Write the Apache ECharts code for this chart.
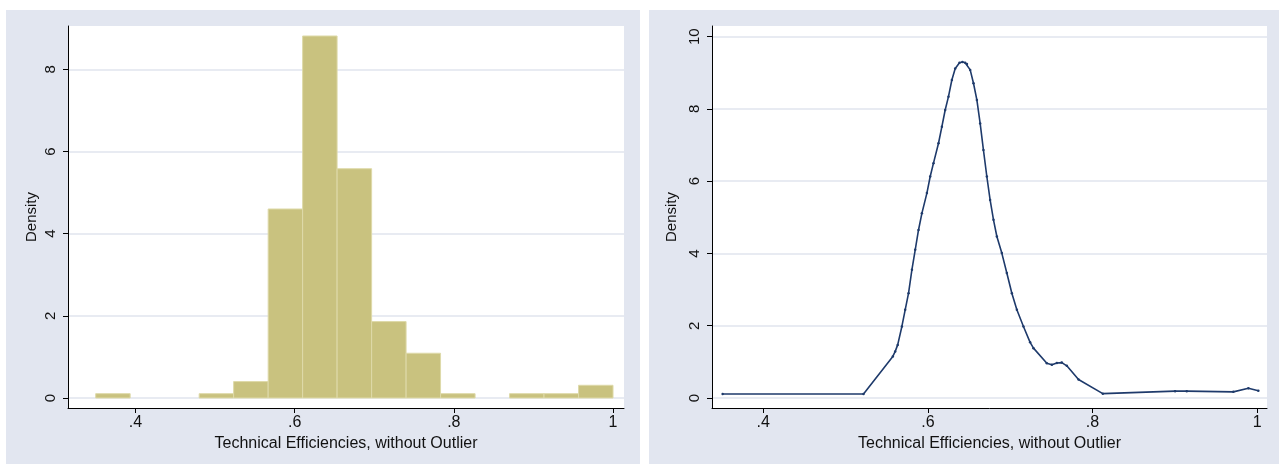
<!DOCTYPE html>
<html>
<head>
<meta charset="utf-8">
<title>Technical Efficiencies</title>
<script src="https://cdn.jsdelivr.net/npm/echarts@6/dist/echarts.min.js"></script>
<style>
  html, body { margin: 0; padding: 0; background: #ffffff; }
  #chart { width: 1279px; height: 464px; }
</style>
</head>
<body>
<div id="chart"></div>
<script>
// histogram: 15 bins, edges
const binEdges = [0.35, 0.3933, 0.4367, 0.48, 0.5233, 0.5667, 0.61, 0.6533, 0.6967,
                  0.74, 0.7833, 0.8267, 0.87, 0.9133, 0.9567, 1.0];
const binDensity = [0.106, 0, 0, 0.106, 0.40, 4.60, 8.81, 5.58, 1.86, 1.09,
                    0.106, 0, 0.106, 0.106, 0.31];

// density line (right panel)
const curveX = [0.3506, 0.5218, 0.5574, 0.5603, 0.5633, 0.5684, 0.5724, 0.5765, 0.5806,
                0.5846, 0.5886, 0.5927, 0.5988, 0.6028, 0.6068, 0.6129, 0.6170, 0.6210,
                0.6250, 0.6291, 0.6332, 0.6384, 0.6420, 0.6453, 0.6474, 0.6514, 0.6554,
                0.6595, 0.6635, 0.6675, 0.6716, 0.6756, 0.6797, 0.6838, 0.6898, 0.6959,
                0.7020, 0.7081, 0.7161, 0.7242, 0.7283, 0.7445, 0.7506, 0.7567, 0.7627,
                0.7688, 0.7830, 0.8125, 0.9003, 0.9145, 0.9711, 0.9894, 1.0015];
const curveY = [0.11, 0.11, 1.15, 1.29, 1.47, 1.98, 2.44, 2.90, 3.55,
                4.10, 4.65, 5.11, 5.67, 6.13, 6.50, 7.05, 7.51, 7.97,
                8.34, 8.80, 9.12, 9.28, 9.30, 9.28, 9.24, 9.08, 8.71,
                8.25, 7.60, 6.86, 6.13, 5.48, 4.93, 4.47, 4.01, 3.46,
                2.90, 2.44, 1.98, 1.54, 1.38, 0.96, 0.92, 0.97, 0.98,
                0.89, 0.51, 0.12, 0.19, 0.19, 0.17, 0.27, 0.20];

const xTicks = [0.4, 0.6, 0.8, 1];
const yTicksLeft = [0, 2, 4, 6, 8];
const yTicksRight = [0, 2, 4, 6, 8, 10];

const xTitle = 'Technical Efficiencies, without Outlier';
const yTitle = 'Density';

const chart = echarts.init(document.getElementById('chart'));

const textColor = '#111111';
const gridColor = '#E1E5EE';
const panelColor = '#E2E6F0';
const fontFamily = 'Liberation Sans, Arial, sans-serif';

const fmtX = v => (v === 1 ? '1' : String(v).replace(/^0/, ''));

function xAxisFor(gridIndex, min, max) {
    return {
        type: 'value',
        gridIndex: gridIndex,
        min: min,
        max: max,
        axisLine: { onZero: false, lineStyle: { color: '#000', width: 1 } },
        axisTick: { show: true, length: 5, lineStyle: { color: '#000' }, customValues: xTicks },
        axisLabel: {
            color: textColor, fontSize: 16, fontFamily: fontFamily, margin: 7,
            customValues: xTicks, formatter: fmtX
        },
        splitLine: { show: false },
        name: xTitle,
        nameLocation: 'middle',
        nameGap: 25,
        nameTextStyle: { color: textColor, fontSize: 16, fontFamily: fontFamily }
    };
}

function yAxisFor(gridIndex, min, max, ticks) {
    return {
        type: 'value',
        gridIndex: gridIndex,
        min: min,
        max: max,
        axisLine: { show: true, onZero: false, lineStyle: { color: '#000', width: 1 } },
        axisTick: { show: true, length: 5, lineStyle: { color: '#000' }, customValues: ticks },
        axisLabel: {
            color: textColor, fontSize: 15, fontFamily: fontFamily, margin: 10,
            rotate: 90, customValues: ticks
        },
        splitLine: { show: true, lineStyle: { color: gridColor, width: 1.5 } },
        name: yTitle,
        nameLocation: 'middle',
        nameGap: 29,
        nameRotate: 90,
        nameTextStyle: { color: textColor, fontSize: 15, fontFamily: fontFamily }
    };
}

const histData = binDensity.map((d, i) => [binEdges[i], binEdges[i + 1], d]);
const curveData = curveX.map((x, i) => [x, curveY[i]]);

const option = {
    animation: false,
    backgroundColor: '#ffffff',
    graphic: [
        { type: 'rect', z: -10, silent: true, shape: { x: 6, y: 10, width: 634, height: 454 }, style: { fill: panelColor } },
        { type: 'rect', z: -10, silent: true, shape: { x: 649, y: 10, width: 630, height: 454 }, style: { fill: panelColor } },
        { type: 'rect', z: -9, silent: true, shape: { x: 68, y: 26, width: 556, height: 382 }, style: { fill: '#ffffff' } },
        { type: 'rect', z: -9, silent: true, shape: { x: 712, y: 26, width: 555, height: 382 }, style: { fill: '#ffffff' } }
    ],
    grid: [
        { left: 68, top: 26, width: 556, height: 382 },
        { left: 712, top: 26, width: 555, height: 382 }
    ],
    xAxis: [
        xAxisFor(0, 0.3152, 1.0138),
        xAxisFor(1, 0.3377, 1.012)
    ],
    yAxis: [
        yAxisFor(0, -0.243, 9.053, yTicksLeft),
        Object.assign(yAxisFor(1, -0.277, 10.295, yTicksRight), { nameGap: 33 })
    ],
    series: [
        {
            type: 'custom',
            xAxisIndex: 0,
            yAxisIndex: 0,
            data: histData,
            renderItem: function (params, api) {
                const h = api.value(2);
                if (!h) return null;
                const p0 = api.coord([api.value(0), 0]);
                const p1 = api.coord([api.value(1), h]);
                return {
                    type: 'rect',
                    shape: { x: p0[0], y: p1[1], width: p1[0] - p0[0], height: p0[1] - p1[1] },
                    style: { fill: '#C9C27F', stroke: '#DEDAA9', lineWidth: 1 }
                };
            },
            encode: { x: [0, 1], y: 2 }
        },
        {
            type: 'line',
            xAxisIndex: 1,
            yAxisIndex: 1,
            data: curveData,
            showAllSymbol: true,
            symbol: 'circle',
            symbolSize: 2.5,
            lineStyle: { color: '#1E3A6B', width: 1.6 },
            itemStyle: { color: '#1E3A6B' }
        }
    ]
};

chart.setOption(option);
window.addEventListener('resize', () => chart.resize());
</script>
</body>
</html>
